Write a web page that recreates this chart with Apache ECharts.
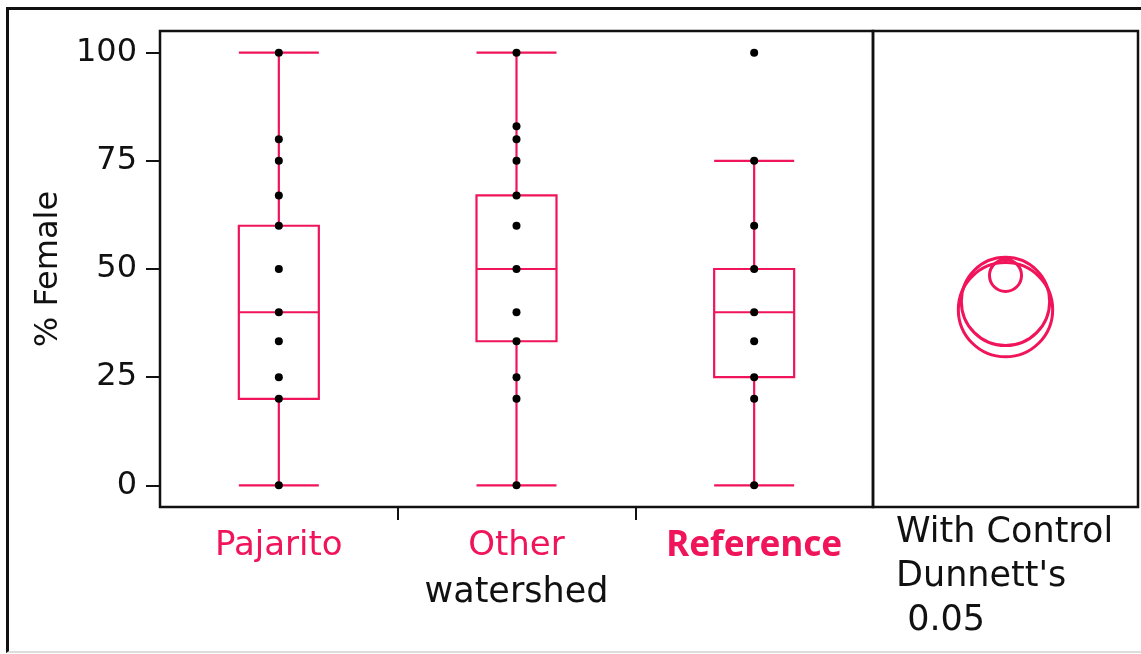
<!DOCTYPE html>
<html>
<head>
<meta charset="utf-8">
<script src="https://cdn.jsdelivr.net/npm/echarts@6/dist/echarts.min.js"></script>
<style>
  html, body { margin: 0; padding: 0; background: #fff; }
  #chart { width: 1141px; height: 654px; }
  #frame { position: absolute; left: 6px; top: 7px; width: 1150px; height: 641px;
           border-left: 3px solid #111; border-top: 3px solid #111; border-bottom: 2px solid #ddd;
           pointer-events: none; }
</style>
</head>
<body>
<div id="chart"></div>
<div id="frame"></div>
<script>
// ---- data ----
const categories = ['Pajarito', 'Other', 'Reference'];
const xAxisTitle = 'watershed';
const yAxisTitle = '% Female';
const yTicks = [0, 25, 50, 75, 100];
// box stats: [min whisker, Q1, median, Q3, max whisker]
const pajaritoBox = [0, 20, 40, 60, 100];
const otherBox = [0, 33.3, 50, 67, 100];
const referenceBox = [0, 25, 40, 50, 75];
// individual points
const pajaritoPoints = [100, 80, 75, 67, 60, 50, 40, 33.3, 25, 20, 0];
const otherPoints = [100, 83, 80, 75, 67, 60, 50, 40, 33.3, 25, 20, 0];
const referencePoints = [100, 75, 60, 50, 40, 33.3, 25, 20, 0];
// comparison circles: [mean, radius] in % units
const circleMeans = [42.5, 40.6, 48.5];
const circleRadii = [10.2, 10.9, 3.7];
const circlePanelLabel = "With Control\nDunnett's\n 0.05";

const PINK = '#F0145A';
const FONT = 'DejaVu Sans';

const pointData = [];
[pajaritoPoints, otherPoints, referencePoints].forEach((arr, i) => {
  arr.forEach(v => pointData.push([i, v]));
});
const circleData = circleMeans.map((m, i) => [0.5, m, circleRadii[i]]);

const chart = echarts.init(document.getElementById('chart'), null, { renderer: 'canvas' });
chart.setOption({
  animation: false,
  backgroundColor: 'transparent',
  title: {
    text: circlePanelLabel,
    left: 891, top: 506,
    textStyle: { fontFamily: FONT, fontSize: 35, fontWeight: 'normal', color: '#111', lineHeight: 44 }
  },
  grid: [
    { left: 160, top: 31, width: 713, height: 476, show: true, borderColor: '#111', borderWidth: 2.5, backgroundColor: 'transparent' },
    { left: 873, top: 31, width: 265, height: 476, show: true, borderColor: '#111', borderWidth: 2.5, backgroundColor: 'transparent' }
  ],
  xAxis: [
    {
      type: 'category', gridIndex: 0,
      data: categories.map(c => c === 'Reference'
        ? { value: c, textStyle: { fontWeight: 'bold', fontFamily: 'Noto Sans', fontSize: 35 } } : c),
      boundaryGap: true,
      axisLine: { show: false, onZero: false }, axisTick: { show: false }, splitLine: { show: false },
      axisLabel: { color: PINK, fontFamily: FONT, fontSize: 34, margin: 22 },
      name: xAxisTitle, nameLocation: 'middle', nameGap: 68,
      nameTextStyle: { color: '#111', fontFamily: FONT, fontSize: 35 }
    },
    {
      type: 'value', gridIndex: 0, min: -0.5, max: 2.5, position: 'bottom',
      axisLine: { show: false, onZero: false }, splitLine: { show: false },
      axisLabel: { show: false },
      axisTick: { show: true, length: 13, lineStyle: { color: '#111', width: 2 }, customValues: [0.5, 1.5] }
    },
    {
      type: 'value', gridIndex: 1, min: 0, max: 1, show: false
    }
  ],
  yAxis: [
    {
      type: 'value', gridIndex: 0, min: -5, max: 105,
      axisLine: { show: false, onZero: false }, splitLine: { show: false },
      axisTick: { show: true, length: 14, lineStyle: { color: '#111', width: 2 }, customValues: yTicks },
      axisLabel: { color: '#111', fontFamily: FONT, fontSize: 32, margin: 23, customValues: yTicks },
      name: yAxisTitle, nameLocation: 'middle', nameGap: 94, nameRotate: 90,
      nameTextStyle: { color: '#111', fontFamily: FONT, fontSize: 32 }
    },
    {
      type: 'value', gridIndex: 1, min: -5, max: 105, show: false
    }
  ],
  series: [
    {
      type: 'boxplot', xAxisIndex: 0, yAxisIndex: 0,
      boxWidth: [80, 80],
      itemStyle: { color: 'transparent', borderColor: PINK, borderWidth: 2.2 },
      data: [pajaritoBox, otherBox, referenceBox],
      z: 2
    },
    {
      type: 'scatter', xAxisIndex: 0, yAxisIndex: 0,
      symbol: 'circle', symbolSize: 8,
      itemStyle: { color: '#000', opacity: 1 },
      data: pointData,
      z: 3
    },
    {
      type: 'custom', xAxisIndex: 2, yAxisIndex: 1,
      data: circleData,
      renderItem: function (params, api) {
        const c = api.coord([api.value(0), api.value(1)]);
        const r = api.size([0, api.value(2)])[1];
        return { type: 'circle', shape: { cx: c[0], cy: c[1], r: r },
                 style: { fill: 'none', stroke: PINK, lineWidth: 3 } };
      },
      z: 3
    }
  ]
});
</script>
</body>
</html>
